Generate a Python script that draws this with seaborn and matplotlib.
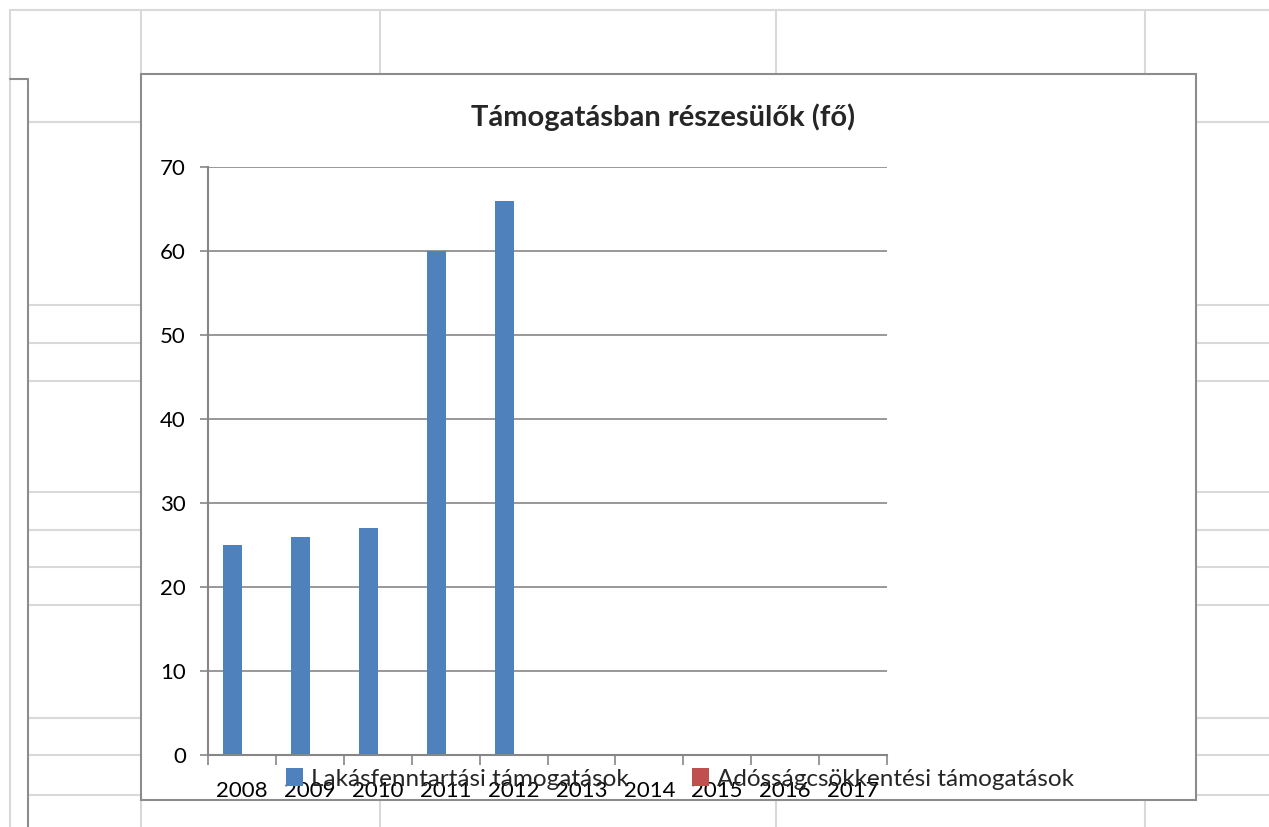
import numpy as np
import pandas as pd
import matplotlib
matplotlib.use("Agg")
import matplotlib.pyplot as plt
import seaborn as sns
from matplotlib.lines import Line2D
from matplotlib.patches import Rectangle

# ---- data ----
years = ["2008", "2009", "2010", "2011", "2012", "2013", "2014", "2015", "2016", "2017"]
series_names = ["Lakásfenntartási támogatások", "Adósságcsökkentési támogatások"]
lakas = [25, 26, 27, 60, 66, 0, 0, 0, 0, 0]
adossag = [0, 0, 0, 0, 0, 0, 0, 0, 0, 0]
title = "Támogatásban részesülők (fő)"
yticks = [0, 10, 20, 30, 40, 50, 60, 70]

df = pd.DataFrame({
    "year": years * 2,
    "series": [series_names[0]] * len(years) + [series_names[1]] * len(years),
    "value": lakas + adossag,
})

sns.set_theme(style="white")
plt.rcParams["font.family"] = ["Lato", "DejaVu Sans"]

W, H = 1269, 827
fig = plt.figure(figsize=(W / 100, H / 100), dpi=100)
fig.patch.set_facecolor("white")

def fx(x):
    return x / W

def fy(y):
    return 1 - y / H

# ---- background spreadsheet grid (decoration) ----
light = "#d9d9d9"
def hline(y, x0, x1, c=light, lw=1.5):
    fig.add_artist(Line2D([fx(x0), fx(x1)], [fy(y), fy(y)], color=c, lw=lw, transform=fig.transFigure, zorder=0))
def vline(x, y0, y1, c=light, lw=1.5):
    fig.add_artist(Line2D([fx(x), fx(x)], [fy(y0), fy(y1)], color=c, lw=lw, transform=fig.transFigure, zorder=0))

hline(10, 10, W)
vline(10, 10, H)
for x in [141, 380, 776, 1145]:
    vline(x, 10, 74)
    vline(x, 800, H)
for y in [122, 305, 343, 381, 492, 530, 567, 605, 718, 755, 795]:
    hline(y, 28, 141)
    hline(y, 1196, W)
# left dark frame
vline(28, 79, H, c="#8c8c8c", lw=1.5)
hline(79, 10, 28, c="#8c8c8c", lw=1.5)

# chart area box
fig.add_artist(Rectangle((fx(141), fy(800)), fx(1196) - fx(141), fy(74) - fy(800),
                         transform=fig.transFigure, facecolor="white", edgecolor="#8c8c8c",
                         lw=1.5, zorder=1))

# ---- plot area ----
ax = fig.add_axes([fx(208), fy(755), fx(887) - fx(208), fy(167) - fy(755)])
ax.set_zorder(2)
ax.patch.set_alpha(0)

sns.barplot(data=df, x="year", y="value", hue="series", order=years, hue_order=series_names,
            palette=["#4F81BD", "#C0504D"], saturation=1, width=0.56, linewidth=0, ax=ax)

ax.set_xlim(-0.5, len(years) - 0.5)
ax.set_ylim(0, 70)
ax.set_yticks(yticks)
ax.set_xlabel("")
ax.set_ylabel("")

gray = "#868686"
ax.yaxis.grid(True, color=gray, lw=1.2)
ax.set_axisbelow(True)
for s in ["top", "right"]:
    ax.spines[s].set_visible(False)
for s in ["left", "bottom"]:
    ax.spines[s].set_color(gray)
    ax.spines[s].set_linewidth(1.5)

ax.tick_params(axis="y", length=6, width=1.2, color=gray, pad=10, labelsize=16, labelcolor="black", left=True)
ax.set_xticks(range(len(years)))
ax.set_xticklabels(years)
ax.tick_params(axis="x", which="major", length=0, pad=19, labelsize=16, labelcolor="black")
ax.set_xticks(np.arange(-0.5, len(years)), minor=True)
ax.tick_params(axis="x", which="minor", length=7, width=1.2, color=gray, bottom=True)

handles, labels = ax.get_legend_handles_labels()
ax.get_legend().remove()
fig.legend(handles, labels, loc="center", bbox_to_anchor=(fx(680), fy(779)), ncol=2,
           frameon=False, fontsize=17.5, handlelength=0.7, handleheight=0.7,
           handletextpad=0.35, columnspacing=2.6)

fig.text(fx(663), fy(117), title, ha="center", va="center", fontsize=21, fontweight="bold")

fig.savefig("out.png", dpi=100)
